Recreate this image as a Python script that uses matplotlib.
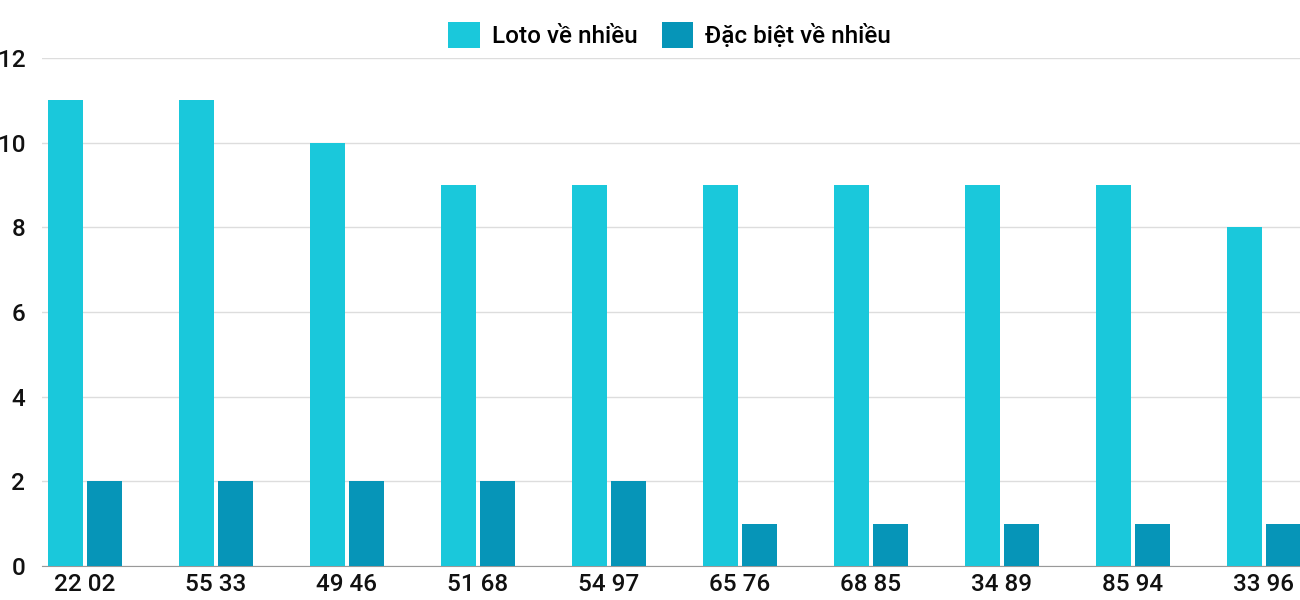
import matplotlib.pyplot as plt
import numpy as np

plt.rcParams['font.family'] = ['Roboto', 'DejaVu Sans']

pairs = ["22 02", "55 33", "49 46", "51 68", "54 97", "65 76", "68 85", "34 89", "85 94", "33 96"]
loto = [11, 11, 10, 9, 9, 9, 9, 9, 9, 8]
dac_biet = [2, 2, 2, 2, 2, 1, 1, 1, 1, 1]

color_loto = '#1AC8DB'
color_db = '#0695B8'

fig = plt.figure(figsize=(13, 6), dpi=100)
ax = fig.add_axes([42 / 1300, 34 / 600, 1258 / 1300, 508 / 600])

x = np.arange(len(pairs))
w = 0.27
ax.bar(x - 0.147, loto, w, color=color_loto, label='Loto về nhiều', zorder=3)
ax.bar(x + 0.147, dac_biet, w, color=color_db, label='Đặc biệt về nhiều', zorder=3)

ax.set_xlim(-0.328, 9.275)
ax.set_ylim(0, 12)
ax.set_yticks(range(0, 13, 2))
ax.set_xticks(x)
ax.set_xticklabels(pairs)
ax.tick_params(axis='both', length=0, labelsize=17.5, colors='#111111')
ax.tick_params(axis='y', pad=12)
ax.tick_params(axis='x', pad=5)
for lbl in ax.get_xticklabels() + ax.get_yticklabels():
    lbl.set_fontweight('medium')

ax.grid(axis='y', color='#dddddd', linewidth=1, zorder=0)
for s in ['top', 'right', 'left']:
    ax.spines[s].set_visible(False)
ax.spines['bottom'].set_color('#999999')

fig.legend(loc='upper center', bbox_to_anchor=(0.515, 1.0), ncol=2, frameon=False,
           prop={'size': 17.5, 'weight': 'medium'}, handlelength=1.3, handleheight=1.3,
           columnspacing=1.0, handletextpad=0.5)

plt.savefig('out.png', dpi=100)
